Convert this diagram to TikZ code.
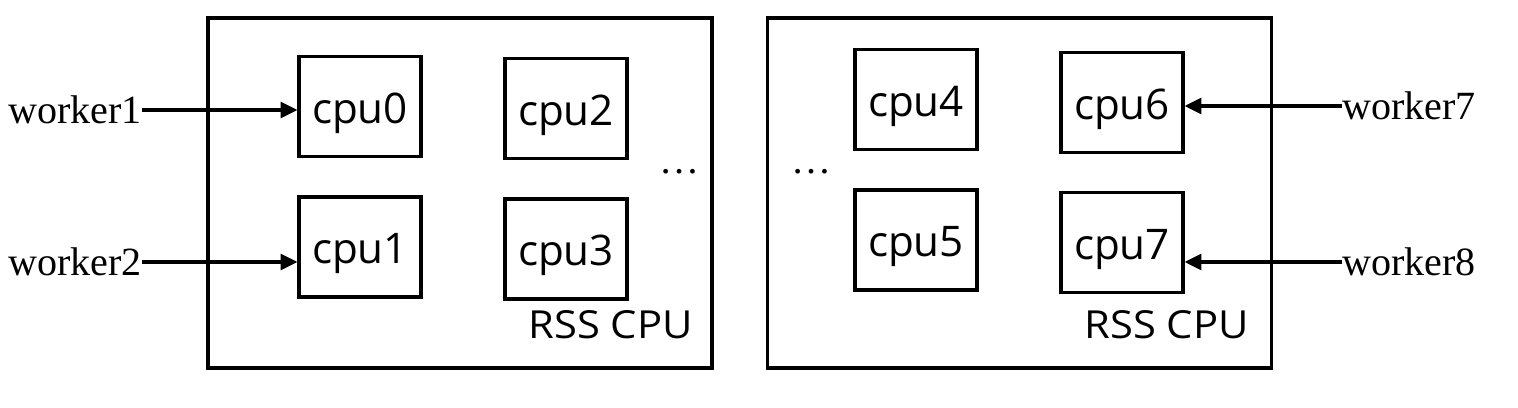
\documentclass[tikz,border=0pt]{standalone}
\usepackage{fontspec}
\setmainfont{Liberation Serif}
\newfontfamily\cpufont{Open Sans}
\newfontfamily\tagfont[FakeStretch=1.08]{Open Sans}
\usetikzlibrary{positioning, arrows.meta}

\begin{document}
\begin{tikzpicture}[
    x=0.02cm, y=-0.02cm,
    rssbox/.style={rectangle, draw, line width=1.8pt, minimum width=10.08cm, minimum height=7.0cm, inner sep=0pt},
    cpubox/.style={rectangle, draw, line width=1.8pt, minimum width=2.44cm, minimum height=2.0cm, inner sep=0pt, text height=18.8pt, text depth=0pt, font=\cpufont\fontsize{24}{27}\selectfont},
    worker/.style={inner sep=0pt, font=\fontsize{22.8}{26}\selectfont},
    tag/.style={inner sep=0pt, font=\tagfont\fontsize{22}{25}\selectfont},
    link/.style={-{Triangle[length=9.5pt, width=9pt]}, line width=1.8pt}
]
\useasboundingbox (0,0) rectangle (1518,408);

% RSS groups
\node[rssbox] (rss0) at (460,193) {};
\node[rssbox] (rss1) at (1019.5,193) {};

% CPUs, left group
\node[cpubox] (cpu0) at (360,106.5) {cpu0};
\node[cpubox] (cpu1) at (360,247) {cpu1};
\node[cpubox] (cpu2) at (566,108.5) {cpu2};
\node[cpubox] (cpu3) at (566,249) {cpu3};

% CPUs, right group
\node[cpubox] (cpu4) at (916,99.5) {cpu4};
\node[cpubox] (cpu5) at (916,240) {cpu5};
\node[cpubox] (cpu6) at (1122,102.5) {cpu6};
\node[cpubox] (cpu7) at (1122,242.5) {cpu7};

% gaps and labels
\node[worker] (gap0) at (680,172) {\dots};
\node[worker] (gap1) at (812,172) {\dots};
\node[tag, anchor=base east] (tag0) at (693,339) {RSS CPU};
\node[tag, anchor=base east] (tag1) at (1249,339) {RSS CPU};

% workers
\node[worker, anchor=east] (w1) at (142,110) {worker1};
\node[worker, anchor=east] (w2) at (142,262) {worker2};
\node[worker, anchor=west] (w7) at (1342,106) {worker7};
\node[worker, anchor=west] (w8) at (1342,262) {worker8};

\draw[link] (w1.east) -- (w1.east -| cpu0.west);
\draw[link] (w2.east) -- (w2.east -| cpu1.west);
\draw[link] (w7.west) -- (w7.west -| cpu6.east);
\draw[link] (w8.west) -- (w8.west -| cpu7.east);

\end{tikzpicture}
\end{document}
